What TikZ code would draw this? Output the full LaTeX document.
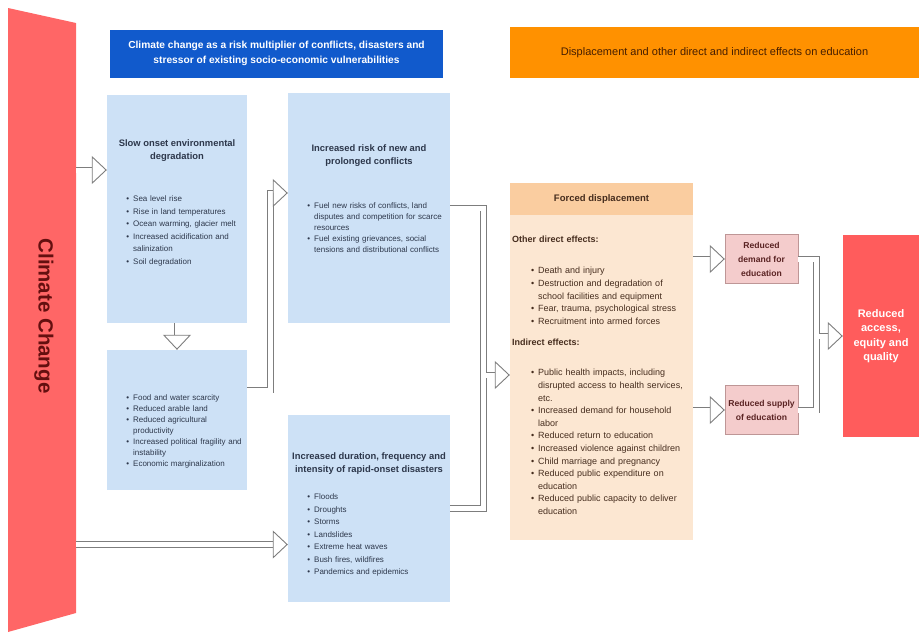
\documentclass[tikz,border=0pt]{standalone}
\usepackage{fontspec}
\setmainfont{Liberation Sans}
\usepackage{enumitem}
\usepackage{tikz}
\usetikzlibrary{arrows.meta}

\definecolor{bannerred}{RGB}{255,102,102}
\definecolor{bannertext}{RGB}{100,15,15}
\definecolor{headblue}{RGB}{17,90,204}
\definecolor{headorange}{RGB}{255,145,0}
\definecolor{headtext}{RGB}{70,30,0}
\definecolor{paleblue}{RGB}{205,225,246}
\definecolor{palepeach}{RGB}{252,231,210}
\definecolor{peachband}{RGB}{250,205,160}
\definecolor{palepink}{RGB}{244,204,204}
\definecolor{pinkedge}{RGB}{190,150,150}
\definecolor{pinktext}{RGB}{90,35,35}
\definecolor{outred}{RGB}{255,92,92}
\definecolor{arrowgray}{RGB}{125,125,125}
\definecolor{boxtext}{RGB}{45,55,75}
\definecolor{peachtext}{RGB}{70,45,30}

\setlist[itemize]{leftmargin=10pt,labelsep=4pt,nosep,label=\textbullet}

\begin{document}
\begin{tikzpicture}[x=1pt,y=-1pt]
\tikzset{
  panel/.style={rectangle,inner sep=0pt},
  boxtitle/.style={align=center,font=\bfseries\fontsize{9.4}{13}\selectfont,text=boxtext},
  boxlist/.style={anchor=north west,inner sep=0pt,text width=150pt,align=left,text=boxtext},
  smallbox/.style={panel,fill=palepink,draw=pinkedge,minimum width=73pt,minimum height=49pt,align=center,text=pinktext,font=\bfseries\fontsize{8.6}{14}\selectfont},
  fatline/.style={draw=arrowgray,line width=0.9pt,double=white,double distance=5pt},
  fatarrow/.style={fatline,-{Triangle[fill=white,length=15pt,width=28pt]}}
}
\useasboundingbox (0,0) rectangle (919,637);

% climate change banner
\fill[bannerred] (8,8) -- (76,23) -- (76,613) -- (8,632) -- cycle;
\node[rotate=-90,font=\bfseries\fontsize{20.5}{22}\selectfont,text=bannertext] (climate) at (44,316) {Climate Change};
\coordinate (bannerR) at (76,316);

% headers
\node[panel,fill=headblue,minimum width=333pt,minimum height=48pt,align=center,text=white,font=\bfseries\fontsize{10.2}{15}\selectfont] (riskhead) at (276.5,53.5) {Climate change as a risk multiplier of conflicts, disasters and\\stressor of existing socio-economic vulnerabilities};
\node[panel,fill=headorange,minimum width=409pt,minimum height=51pt,text=headtext,font=\fontsize{11}{13}\selectfont] (disphead) at (714.5,52.5) {Displacement and other direct and indirect effects on education};

% blue boxes
\node[panel,fill=paleblue,minimum width=140pt,minimum height=228pt] (slow) at (177,209) {};
\node[panel,fill=paleblue,minimum width=140pt,minimum height=140pt] (econ) at (177,420) {};
\node[panel,fill=paleblue,minimum width=162pt,minimum height=230pt] (conflict) at (369,208) {};
\node[panel,fill=paleblue,minimum width=162pt,minimum height=187pt] (disaster) at (369,508.5) {};

\node[boxtitle] (slowtitle) at (177,151) {Slow onset environmental\\degradation};
\node[boxlist,font=\fontsize{8}{12.5}\selectfont] (slowlist) at (123,189) {%
\begin{itemize}
\item Sea level rise
\item Rise in land temperatures
\item Ocean warming, glacier melt
\item Increased acidification and\newline salinization
\item Soil degradation
\end{itemize}};

\node[boxlist,font=\fontsize{8}{11}\selectfont] (econlist) at (123,389) {%
\begin{itemize}
\item Food and water scarcity
\item Reduced arable land
\item Reduced agricultural\newline productivity
\item Increased political fragility and\newline instability
\item Economic marginalization
\end{itemize}};

\node[boxtitle] (conflicttitle) at (369,156) {Increased risk of new and\\prolonged conflicts};
\node[boxlist,font=\fontsize{8}{11}\selectfont] (conflictlist) at (304,197) {%
\begin{itemize}
\item Fuel new risks of conflicts, land\newline disputes and competition for scarce\newline resources
\item Fuel existing grievances, social\newline tensions and distributional conflicts
\end{itemize}};

\node[boxtitle] (disastertitle) at (369,464) {Increased duration, frequency and\\intensity of rapid-onset disasters};
\node[boxlist,font=\fontsize{8}{12.5}\selectfont] (disasterlist) at (304,487) {%
\begin{itemize}
\item Floods
\item Droughts
\item Storms
\item Landslides
\item Extreme heat waves
\item Bush fires, wildfires
\item Pandemics and epidemics
\end{itemize}};

% forced displacement
\node[panel,fill=palepeach,minimum width=183pt,minimum height=357pt] (forced) at (601.5,361.5) {};
\node[panel,fill=peachband,anchor=north,minimum width=183pt,minimum height=32pt,text=peachtext,font=\bfseries\fontsize{9.5}{11}\selectfont] (forcedtitle) at (forced.north) {Forced displacement};
\node[boxlist,text=peachtext,font=\bfseries\fontsize{9}{11}\selectfont] (directhead) at (512,236) {Other direct effects:};
\node[boxlist,text width=165pt,text=peachtext,font=\fontsize{9}{12.6}\selectfont] (directlist) at (528,261) {%
\begin{itemize}
\item Death and injury
\item Destruction and degradation of\newline school facilities and equipment
\item Fear, trauma, psychological stress
\item Recruitment into armed forces
\end{itemize}};
\node[boxlist,text=peachtext,font=\bfseries\fontsize{9}{11}\selectfont] (indirecthead) at (512,339) {Indirect effects:};
\node[boxlist,text width=165pt,text=peachtext,font=\fontsize{9}{12.6}\selectfont] (indirectlist) at (528,363) {%
\begin{itemize}
\item Public health impacts, including\newline disrupted access to health services,\newline etc.
\item Increased demand for household\newline labor
\item Reduced return to education
\item Increased violence against children
\item Child marriage and pregnancy
\item Reduced public expenditure on\newline education
\item Reduced public capacity to deliver\newline education
\end{itemize}};

% outcomes
\node[smallbox] (demand) at (761.5,259) {Reduced\\demand for\\education};
\node[smallbox] (supply) at (761.5,410) {Reduced supply\\of education};
\node[panel,fill=outred,minimum width=76pt,minimum height=202pt,align=center,text=white,font=\bfseries\fontsize{11}{14.5}\selectfont] (outcome) at (881,336) {Reduced\\access,\\equity and\\quality};

% connectors
\draw[fatarrow] ([yshift=39pt]slow.west -| bannerR) -- ([yshift=39pt]slow.west);
\draw[fatarrow] ([yshift=-36pt]disaster.west -| bannerR) -- ([yshift=-36pt]disaster.west);
\draw[fatarrow] (slow.south) -- (econ.north);
\draw[fatarrow] ([yshift=30pt]econ.east) -- ++(23,0) |- ([yshift=15pt]conflict.west);
\draw[fatline] (conflict.east) -- ++(33,0) |- (disaster.east);
\coordinate (mainjoin) at (486,375);
\draw[fatarrow] (mainjoin) -- (forced.west |- mainjoin);
\draw[fatarrow] (forced.east |- demand) -- (demand.west);
\draw[fatarrow] (forced.east |- supply) -- (supply.west);
\draw[fatline] (demand.east) -- ++(18,0) |- (supply.east);
\coordinate (outjoin) at (819,336);
\draw[fatarrow] (outjoin) -- (outcome.west);
\end{tikzpicture}
\end{document}
